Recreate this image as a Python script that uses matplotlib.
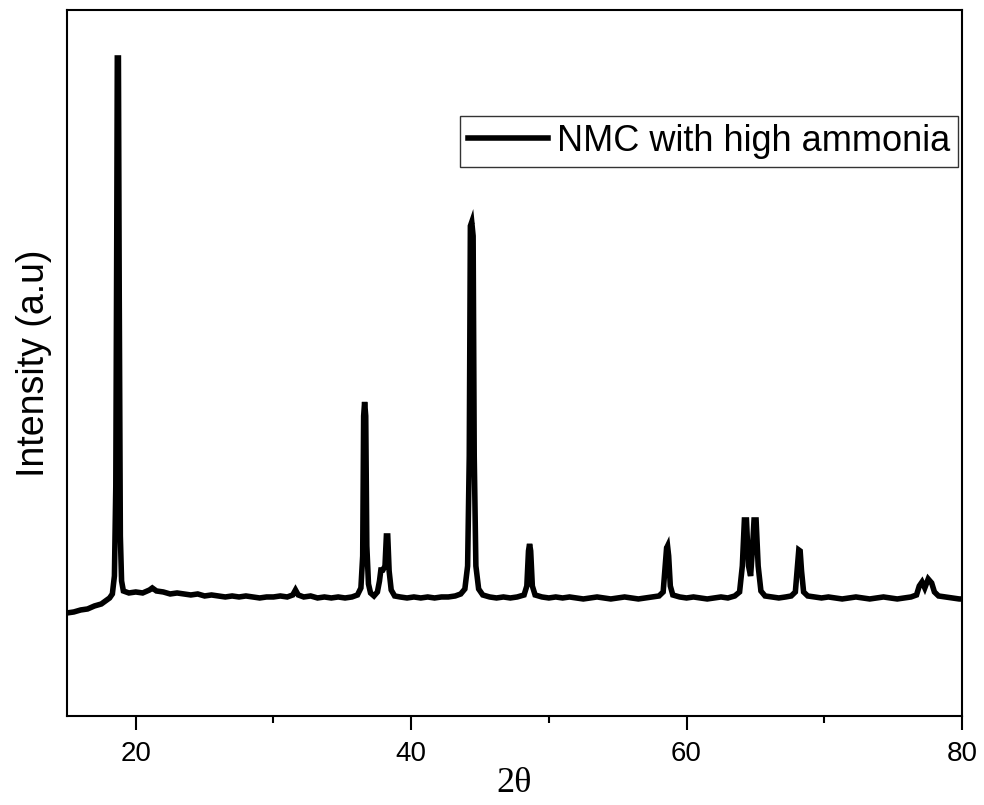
import matplotlib
matplotlib.use('Agg')
import matplotlib.pyplot as plt

# 2-theta positions (deg) and intensity (a.u.)
two_theta = [15.0, 15.5, 16.0, 16.5, 17.0, 17.5, 17.8, 18.1, 18.3, 18.45, 18.55, 18.62,
             18.66, 18.74, 18.8, 18.88, 18.97, 19.1, 19.5, 20.0, 20.5, 21.0, 21.2, 21.5,
             22.0, 22.5, 23.0, 23.5, 24.0, 24.5, 25.0, 25.5, 26.0, 26.5, 27.0, 27.5,
             28.0, 28.5, 29.0, 29.5, 30.0, 30.5, 31.0, 31.4, 31.6, 31.8, 32.2, 32.7,
             33.2, 33.7, 34.2, 34.7, 35.2, 35.7, 36.1, 36.35, 36.48, 36.55, 36.62, 36.7,
             36.78, 36.9, 37.05, 37.3, 37.55, 37.7, 37.8, 37.95, 38.1, 38.2, 38.3, 38.4,
             38.55, 38.8, 39.2, 39.7, 40.2, 40.7, 41.2, 41.7, 42.2, 42.7, 43.2, 43.6,
             43.9, 44.1, 44.22, 44.3, 44.4, 44.5, 44.58, 44.7, 44.9, 45.2, 45.7, 46.2,
             46.7, 47.2, 47.7, 48.2, 48.4, 48.52, 48.6, 48.68, 48.8, 49.0, 49.5, 50.0,
             50.5, 51.0, 51.5, 52.0, 52.5, 53.0, 53.5, 54.0, 54.5, 55.0, 55.5, 56.0,
             56.5, 57.0, 57.5, 58.0, 58.3, 58.45, 58.55, 58.62, 58.7, 58.82, 59.0, 59.5,
             60.0, 60.5, 61.0, 61.5, 62.0, 62.5, 63.0, 63.5, 63.85, 64.05, 64.2, 64.35,
             64.5, 64.65, 64.8, 64.9, 65.05, 65.2, 65.4, 65.7, 66.2, 66.7, 67.2, 67.6,
             67.9, 68.05, 68.15, 68.25, 68.35, 68.5, 68.8, 69.3, 69.8, 70.3, 70.8, 71.3,
             71.8, 72.3, 72.8, 73.3, 73.8, 74.3, 74.8, 75.3, 75.8, 76.3, 76.7, 76.9,
             77.1, 77.3, 77.55, 77.8, 78.0, 78.3, 78.8, 79.3, 79.8, 80.0]
intensity = [103, 104, 106, 107, 110, 112, 115, 118, 122, 140, 230, 480,
             658, 658, 420, 180, 135, 125, 123, 124, 123, 126, 128, 125,
             124, 122, 123, 122, 121, 122, 120, 121, 120, 119, 120, 119,
             120, 119, 118, 119, 119, 120, 119, 121, 126, 121, 119, 120,
             118, 119, 118, 119, 118, 119, 121, 128, 160, 300, 314, 300,
             170, 132, 123, 120, 124, 135, 146, 146, 150, 180, 180, 145,
             126, 120, 119, 118, 119, 118, 119, 118, 119, 119, 120, 122,
             127, 150, 260, 490, 494, 480, 260, 150, 127, 121, 119, 118,
             119, 118, 119, 121, 130, 165, 172, 165, 130, 121, 119, 118,
             119, 118, 119, 118, 117, 118, 119, 118, 117, 118, 119, 118,
             117, 118, 119, 120, 124, 150, 168, 170, 160, 130, 121, 119,
             118, 119, 118, 117, 118, 119, 118, 120, 124, 150, 196, 196,
             150, 140, 170, 196, 196, 150, 125, 120, 119, 118, 119, 120,
             124, 150, 166, 165, 145, 124, 120, 119, 118, 119, 118, 117,
             118, 119, 118, 117, 118, 119, 118, 117, 118, 119, 121, 130,
             134, 128, 137, 133, 124, 120, 119, 118, 117, 117]

series_label = 'NMC with high ammonia'
x_ticks = [20, 40, 60, 80]
x_minor_ticks = [30, 50, 70]

plt.rcParams['font.family'] = ['Liberation Sans', 'DejaVu Sans']

fig = plt.figure(figsize=(9.84, 8.05), dpi=100)
ax = fig.add_axes([0.068, 0.1106, 0.9096, 0.877])

ax.plot(two_theta, intensity, color='black', linewidth=4.0, label=series_label,
        solid_joinstyle='miter')

ax.set_xlim(15, 80)
ax.set_ylim(0, 706)
ax.set_xticks(x_ticks)
ax.set_xticks(x_minor_ticks, minor=True)
ax.set_yticks([])
ax.tick_params(axis='x', which='major', direction='out', length=10, width=1.5,
               labelsize=20, pad=8)
ax.tick_params(axis='x', which='minor', direction='out', length=5, width=1.5)
for s in ax.spines.values():
    s.set_linewidth(1.5)

ax.set_xlabel('2θ', fontsize=26, family=['Liberation Serif', 'DejaVu Serif'], labelpad=0)
ax.set_ylabel('Intensity (a.u)', fontsize=27, labelpad=11)

leg = ax.legend(loc='upper right', bbox_to_anchor=(0.9955, 0.850), fontsize=26,
                frameon=True, fancybox=False, handlelength=2.2, handletextpad=0.25,
                borderpad=0.22, borderaxespad=0)
leg.get_frame().set_edgecolor('black')
leg.get_frame().set_linewidth(1.0)

fig.savefig('out.png', dpi=100)
